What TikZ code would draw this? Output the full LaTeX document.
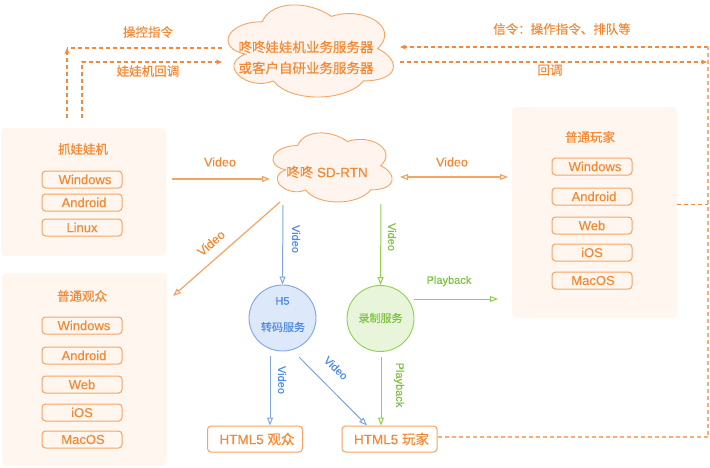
\documentclass[tikz,border=0pt]{standalone}
\usepackage{fontspec}
\setmainfont[FakeBold=0.35]{Liberation Sans}
\newfontfamily\cjk[FakeBold=0.5]{Noto Sans CJK SC}
\usetikzlibrary{arrows.meta,shapes.geometric}
\definecolor{orT}{HTML}{F28A35}
\definecolor{orL}{HTML}{F6A462}
\definecolor{orD}{HTML}{F5883A}
\definecolor{orD2}{HTML}{F8AE78}
\definecolor{boxfill}{HTML}{FFF6EF}
\definecolor{cloudfill}{HTML}{FFF5EE}
\definecolor{blL}{HTML}{7EA6E0}
\definecolor{blF}{HTML}{DDE8FB}
\definecolor{blT}{HTML}{4F8BE0}
\definecolor{grL}{HTML}{8FD14F}
\definecolor{grF}{HTML}{E8F5DA}
\definecolor{grT}{HTML}{7DC242}
\tikzset{
  panel/.style={fill=boxfill, rounded corners=4pt, inner sep=0pt, minimum width=165pt},
  item/.style={draw=orL, line width=1pt, rounded corners=3.5pt, minimum width=80pt, minimum height=17pt, inner sep=0pt, text=orT, font=\fontsize{13}{13}\selectfont},
  title/.style={text=orT, font=\cjk\fontsize{12.5}{12.5}\selectfont},
  lbl/.style={text=orT, font=\fontsize{12.5}{12.5}\selectfont, inner sep=0pt},
  cjklbl/.style={text=orT, font=\cjk\fontsize{12.5}{12.5}\selectfont, inner sep=0pt},
  smlbl/.style={font=\fontsize{11}{11}\selectfont, inner sep=0pt},
  cloudline/.style={draw=orL, fill=cloudfill, line width=0.9pt},
  oarr/.style={line width=1.2pt, -{Triangle[open, length=8pt, width=6pt]}},
  darr/.style={orD, line width=1.4pt, dash pattern=on 4pt off 3pt},
  dtip/.style={-{Stealth[length=6pt, width=5pt]}},
  bot/.style={draw=orL, line width=1pt, rounded corners=3.5pt, fill=white, minimum width=95pt, minimum height=26pt, inner sep=0pt, text=orT, font=\fontsize{13.5}{13.5}\selectfont},
}
\newcommand\cloudpath{(0.25,0.25) .. controls (0.05,0.25) and (0,0.5) .. (0.16,0.55)
  .. controls (0,0.66) and (0.18,0.9) .. (0.31,0.8)
  .. controls (0.4,1) and (0.7,1) .. (0.8,0.8)
  .. controls (1,0.8) and (1,0.6) .. (0.875,0.5)
  .. controls (1,0.3) and (0.8,0.1) .. (0.625,0.2)
  .. controls (0.5,0.05) and (0.3,0.05) .. (0.25,0.25) -- cycle}
\begin{document}
\begin{tikzpicture}[x=1pt,y=-1pt]
\useasboundingbox (0,0) rectangle (710,467);

% top cloud
\begin{scope}[shift={(216,-5.1)}, x=184.6pt, y=-107.5pt]
  \path[cloudline] \cloudpath;
\end{scope}
\node[text=orT, font=\cjk\fontsize{13.5}{21}\selectfont, align=center] (srvtext) at (306,57.5) {咚咚娃娃机业务服务器\\或客户自研业务服务器};

% SD-RTN cloud
\begin{scope}[shift={(264.3,125.4)}, x=133.1pt, y=-80.6pt]
  \path[cloudline] \cloudpath;
\end{scope}
\node[text=orT, font=\fontsize{13.5}{13.5}\selectfont] (rtntext) at (327,172) {{\cjk 咚咚} SD-RTN};

% left panel: claw machine
\node[panel, minimum height=128pt] (claw) at (83.5,192) {};
\node[title] (clawt) at (83,149) {抓娃娃机};
\node[item] (c1) at (82,179.5) {\hspace{6pt}Windows};
\node[item] (c2) at (82,202.5) {\hspace{4pt}Android};
\node[item] (c3) at (82,227.5) {Linux};

% right panel: players
\node[panel, minimum height=211pt] (play) at (594.5,212.5) {};
\node[title] (playt) at (590,137) {普通玩家};
\node[item] (p1) at (592,166.5) {\hspace{6pt}Windows};
\node[item] (p2) at (592,196.5) {\hspace{4pt}Android};
\node[item] (p3) at (592,225.5) {Web};
\node[item] (p4) at (592,252.5) {iOS};
\node[item] (p5) at (592,280.5) {\hspace{2pt}MacOS};

% left bottom panel: viewers
\node[panel, minimum height=193pt] (view) at (84.5,369.5) {};
\node[title] (viewt) at (82,296) {普通观众};
\node[item] (v1) at (82,325.5) {\hspace{4pt}Windows};
\node[item] (v2) at (82,355.5) {\hspace{4pt}Android};
\node[item] (v3) at (82,384.5) {Web};
\node[item] (v4) at (82,412.5) {iOS};
\node[item] (v5) at (82,439.5) {\hspace{2pt}MacOS};

% circles
\node[ellipse, draw=blL, fill=blF, line width=0.9pt, minimum width=67pt, minimum height=66pt] (h5) at (282.5,318) {};
\node[smlbl, text=blT] (h5a) at (282.5,301) {H5};
\node[smlbl, text=blT, font=\cjk\fontsize{11}{11}\selectfont] (h5b) at (283,327) {转码服务};
\node[ellipse, draw=grL, fill=grF, line width=0.9pt, minimum width=67pt, minimum height=66pt] (rec) at (380.5,318.5) {};
\node[smlbl, text=grT, font=\cjk\fontsize{11}{11}\selectfont] (rect) at (380.5,318) {录制服务};

% bottom boxes
\node[bot] (hv) at (255,439) {\hspace{4pt}HTML5 {\cjk 观众}};
\node[bot] (hp) at (389.5,439) {\hspace{4pt}HTML5 {\cjk 玩家}};

% coordinates
\coordinate (a1) at (172,179);
\coordinate (a2) at (270,179);
\coordinate (b1) at (400,177);
\coordinate (b2) at (508,177);
\coordinate (d1) at (280,202);
\coordinate (d2) at (173,296);

% orange solid arrows
\draw[oarr, orL] (a1) -- (a2);
\node[lbl] (la) at (220,162) {Video};
\draw[line width=1.2pt, orL, {Triangle[open, length=8pt, width=6pt]}-{Triangle[open, length=8pt, width=6pt]}] (b1) -- (b2);
\node[lbl] (lb) at (452,162) {Video};
\draw[oarr, orL] (d1) -- (d2);
\node[lbl, rotate=41] (ld) at (211,243) {Video};

% blue arrows
\draw[oarr, blL, line width=1pt] (283,205) -- (h5.north);
\node[smlbl, text=blT, rotate=-90] (lv1) at (296,239) {Video};
\draw[oarr, blL, line width=1pt] (270,356) -- (hv.north -| 270,0);
\node[smlbl, text=blT, rotate=-90] (lv2) at (282,380) {Video};
\draw[oarr, blL, line width=1pt] (299,357) -- (367,425.5);
\node[smlbl, text=blT, rotate=-44] (lv3) at (336,368) {Video};

% green arrows
\draw[oarr, grL, line width=1pt] (381,204) -- (rec.north);
\node[smlbl, text=grT, rotate=-90] (lg1) at (392,237) {Video};
\draw[oarr, grL, line width=1pt] (rec.east |- 0,299) -- (498,299);
\node[smlbl, text=grT] (lg2) at (449,281) {Playback};
\draw[oarr, grL, line width=1pt] (381,357) -- (hp.north -| 381,0);
\node[smlbl, text=grT, rotate=-90] (lg3) at (399,385) {Playback};

% dashed signalling lines, left
\draw[darr] (222,48) -- (67,48);
\draw[darr, dtip] (67,118) -- (67,48);
\draw[darr, dtip] (82,118) -- (82,62) -- (222,62);
\node[cjklbl] (l1) at (148,32) {操控指令};
\node[cjklbl] (l2) at (148,71) {娃娃机回调};

% dashed lines, right
\draw[darr, dtip] (708,47) -- (400,47);
\draw[darr, dtip] (400,62) -- (707,62);
\draw[darr, orD2, line width=1.2pt] (hp.east |- 0,437) -- (708,437) -- (708,47);
\draw[darr, line width=1pt] (play.east |- 0,204) -- (708,204);
\node[cjklbl] (l3) at (562,29) {信令：操作指令、排队等};
\node[cjklbl] (l4) at (550,70) {回调};
\end{tikzpicture}
\end{document}
